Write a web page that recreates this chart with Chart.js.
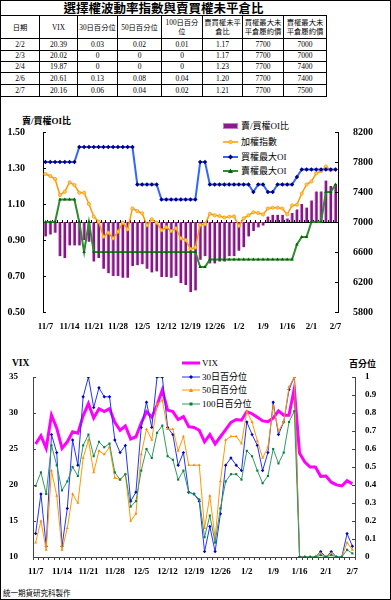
<!DOCTYPE html>
<html><head><meta charset="utf-8">
<script src="https://cdn.jsdelivr.net/npm/chart.js@4.4.1/dist/chart.umd.min.js"></script>
<style>
html,body{margin:0;padding:0;background:#fff;}
#frame{position:relative;width:391px;height:600px;overflow:hidden;background:#fff;}
#border{position:absolute;left:0;top:0;width:391px;height:600px;box-sizing:border-box;border:1px solid #000;pointer-events:none;z-index:5}
#tbl{position:absolute;left:0;top:0;border-collapse:collapse;table-layout:fixed;width:326px;font-family:"Liberation Serif","Noto Sans CJK TC",serif;font-size:7.5px;color:#000}
#tbl td{border:1px solid #000;text-align:center;padding:0;line-height:1;overflow:hidden;white-space:nowrap}
#tbl td.title{border-left:none;border-right:none;border-top:none;font-family:"Noto Sans CJK TC",sans-serif;font-weight:bold;font-size:12.5px;height:15px;line-height:15px}
#tbl tr.hdr td{font-family:"Liberation Serif","Noto Sans CJK TC",serif;font-size:7.3px;height:22px;line-height:9px}
canvas{position:absolute;left:0}
.lbl{position:absolute;white-space:nowrap;font-family:"Liberation Serif","Noto Sans CJK TC",serif;color:#000}
.leg{position:absolute;white-space:nowrap;font-family:"Liberation Serif","Noto Sans CJK TC",serif;font-size:9px;height:12px;line-height:12px;color:#000}
.leg svg{position:absolute;left:0;top:2px}
.leg span{position:absolute;top:0}
</style>
</head><body>
<div id="frame">
<table id="tbl">
<colgroup><col style="width:39px"><col style="width:38px"><col style="width:40px"><col style="width:44px"><col style="width:41px"><col style="width:40px"><col style="width:41px"><col style="width:43px"></colgroup>
<tbody id="tbody">
<tr><td class="title" colspan="8">選擇權波動率指數與賣買權未平倉比</td></tr>
<tr class="hdr"><td>日期</td><td>VIX</td><td>30日百分位</td><td>50日百分位</td><td>100日百分<br>位</td><td>賣買權未平<br>倉比</td><td>買權最大未<br>平倉履約價</td><td>賣權最大未<br>平倉履約價</td></tr>
</tbody>
</table>

<div class="lbl" style="left:22px;top:115px;font-size:9px;font-weight:bold;line-height:12px">賣/買權OI比</div>

<div class="leg" style="left:223px;top:120px"><svg width="16" height="8"><rect x="0.5" y="1.5" width="14" height="5" fill="#8b1a8b" stroke="#cc77cc" stroke-width="1"/></svg><span style="left:18px">賣/買權OI比</span></div>
<div class="leg" style="left:223px;top:135.5px"><svg width="16" height="8"><line x1="0" y1="4" x2="15" y2="4" stroke="#ff9900" stroke-width="1.5"/><circle cx="7.5" cy="4" r="1.7" fill="#ffcc66" stroke="#ff9900" stroke-width="0.8"/></svg><span style="left:18px">加權指數</span></div>
<div class="leg" style="left:223px;top:150.5px"><svg width="16" height="8"><line x1="0" y1="4" x2="15" y2="4" stroke="#3366ff" stroke-width="2"/><polygon points="7.5,1.5 10,4 7.5,6.5 5,4" fill="#000080"/></svg><span style="left:18px">買權最大OI</span></div>
<div class="leg" style="left:223px;top:165px"><svg width="16" height="8"><line x1="0" y1="4" x2="15" y2="4" stroke="#2e8b2e" stroke-width="2"/><polygon points="7.5,1.5 10,6 5,6" fill="#006400"/></svg><span style="left:18px">賣權最大OI</span></div>

<canvas id="c1" width="391" height="235" style="top:100px;width:391px;height:235px"></canvas>

<div class="lbl" style="left:12px;top:357px;font-size:9.5px;font-weight:bold;line-height:12px">VIX</div>
<div class="lbl" style="left:349px;top:358px;font-size:9px;font-weight:bold;line-height:12px">百分位</div>

<div class="leg" style="left:182px;top:357px"><svg width="19" height="8"><line x1="0" y1="4" x2="18" y2="4" stroke="#ff00ff" stroke-width="3"/></svg><span style="left:20px">VIX</span></div>
<div class="leg" style="left:182px;top:370.5px"><svg width="19" height="8"><line x1="0" y1="4" x2="18" y2="4" stroke="#2233ff" stroke-width="1"/><polygon points="9,2 11,4 9,6 7,4" fill="#0000cc"/></svg><span style="left:20px">30日百分位</span></div>
<div class="leg" style="left:182px;top:384px"><svg width="19" height="8"><line x1="0" y1="4" x2="18" y2="4" stroke="#ff9900" stroke-width="1"/><polygon points="9,2 11,6 7,6" fill="#ff8800"/></svg><span style="left:20px">50日百分位</span></div>
<div class="leg" style="left:182px;top:397.5px"><svg width="19" height="8"><line x1="0" y1="4" x2="18" y2="4" stroke="#339966" stroke-width="1"/><rect x="7.5" y="2.5" width="3" height="3" fill="#008040"/></svg><span style="left:20px">100日百分位</span></div>

<canvas id="c2" width="391" height="240" style="top:340px;width:391px;height:240px"></canvas>

<div class="lbl" style="left:3px;top:588px;font-size:7.5px;line-height:10px;font-family:'Noto Sans CJK TC',sans-serif">統一期貨研究科製作</div>
<div id="border"></div>
</div>

<script>
// ---------- table data ----------
const tableDates = ['2/2','2/3','2/4','2/6','2/7'];
const tableVix = ['20.39','20.02','19.87','20.61','20.16'];
const tableP30 = ['0.03','0','0','0.13','0.06'];
const tableP50 = ['0.02','0','0','0.08','0.04'];
const tableP100 = ['0.01','0','0','0.04','0.02'];
const tablePCR = ['1.17','1.17','1.23','1.20','1.21'];
const tableCallStrike = ['7700','7700','7700','7700','7700'];
const tablePutStrike = ['7000','7000','7400','7400','7500'];

// ---------- chart data ----------
const dates = ['11/7','11/8','11/9','11/10','11/11','11/14','11/15','11/16','11/17','11/18',
 '11/21','11/22','11/23','11/24','11/25','11/28','11/29','11/30','12/1','12/2',
 '12/5','12/6','12/7','12/8','12/9','12/12','12/13','12/14','12/15','12/16',
 '12/19','12/20','12/21','12/22','12/23','12/26','12/27','12/28','12/29','12/30',
 '1/2','1/3','1/4','1/5','1/6','1/9','1/10','1/11','1/12','1/13',
 '1/16','1/17','1/18','1/30','1/31','2/1','2/2','2/3','2/4','2/6','2/7'];

const pcRatio = [0.92,0.93,0.94,0.81,0.80,0.87,0.87,0.87,0.90,0.89,
 0.78,0.80,0.74,0.715,0.70,0.70,0.69,0.69,0.755,0.76,
 0.765,0.74,0.72,0.725,0.695,0.695,0.69,0.70,0.66,0.65,
 0.61,0.62,0.79,0.81,0.77,0.77,0.78,0.78,0.81,0.81,
 0.84,0.86,0.92,0.95,0.97,0.98,1.03,1.04,1.04,1.04,
 1.02,1.05,1.07,1.10,1.08,1.12,1.17,1.17,1.23,1.20,1.21];

const taiex = [7640,7613,7573,7360,7404,7529,7493,7391,7391,7240,
 7071,7004,6804,6858,6782,6871,6991,6902,7182,7147,
 7116,6956,7036,6991,6890,6930,6880,6916,6782,6760,
 6640,6660,6960,6970,7110,7090,7080,7060,7070,7075,
 6950,7050,7090,7130,7120,7100,7180,7190,7190,7180,
 7100,7220,7230,7380,7500,7540,7650,7680,7740,7690,7700];

const callMaxOI = [7800,7800,7800,7800,7800,7800,7800,8000,8000,8000,
 8000,8000,8000,8000,8000,8000,8000,8000,8000,7500,
 7500,7500,7500,7500,7300,7300,7300,7300,7300,7300,
 7300,7300,7800,7800,7500,7500,7500,7500,7500,7500,
 7500,7500,7500,7400,7500,7500,7400,7400,7500,7500,
 7500,7500,7600,7700,7700,7700,7700,7700,7700,7700,7700];

const putMaxOI = [7000,7000,7000,7300,7300,7300,7300,7000,6600,7000,
 6600,6600,6600,6600,6600,6600,6600,6600,6600,6600,
 6600,6600,6600,6600,6600,6600,6600,6600,6600,6600,
 6600,6600,6400,6400,6500,6500,6500,6500,6500,6500,
 6500,6500,6500,6500,6500,6500,6500,6500,6500,6500,
 6500,6500,6700,6800,6800,7000,7000,7000,7400,7400,7500];

const vix = [25.7,26.85,25.1,29.7,27.9,25.1,26.0,27.4,27.2,29.6,
 31.3,29.3,30.6,30.2,30.6,28.7,27.6,28.2,26.4,26.7,
 28.6,30.2,29.4,31.1,33.2,30.4,30.2,29.1,29.5,28.1,
 28.0,27.6,26.0,27.0,25.7,26.7,27.7,28.7,29.1,29.0,
 30.2,29.9,29.4,28.9,28.8,29.3,30.3,29.7,29.7,33.4,
 24.4,23.2,22.5,22.5,21.2,21.25,20.39,20.02,19.87,20.61,20.16];

const pct30 = [0.13,0.35,0.06,0.68,0.58,0.06,0.27,0.65,0.51,0.89,
 1.0,0.83,0.94,0.89,0.89,0.65,0.58,0.62,0.31,0.36,
 0.72,0.86,0.72,1.0,1.0,0.72,0.68,0.51,0.58,0.36,
 0.35,0.31,0.03,0.17,0.03,0.24,0.51,0.55,0.51,0.48,
 0.75,0.68,0.62,0.48,0.58,0.86,0.68,0.75,0.93,1.0,
 0,0,0,0,0.03,0,0.03,0,0,0.13,0.06];

const pct50 = [0.08,0.20,0.04,0.48,0.34,0.04,0.16,0.35,0.30,0.55,
 0.65,0.47,0.59,0.57,0.61,0.44,0.43,0.46,0.20,0.24,
 0.57,0.71,0.65,0.85,0.87,0.71,0.71,0.59,0.67,0.51,
 0.51,0.51,0.16,0.34,0.105,0.42,0.65,0.67,0.67,0.63,
 0.81,0.75,0.645,0.55,0.61,0.84,0.70,0.75,0.945,1.0,
 0,0,0,0,0.02,0,0.02,0,0,0.08,0.04];

const pct100 = [0.395,0.47,0.35,0.62,0.51,0.37,0.42,0.50,0.45,0.62,
 0.68,0.56,0.64,0.61,0.63,0.47,0.43,0.46,0.28,0.31,
 0.48,0.60,0.55,0.69,0.73,0.56,0.54,0.43,0.48,0.36,
 0.35,0.32,0.11,0.23,0.08,0.27,0.42,0.46,0.46,0.43,
 0.59,0.56,0.48,0.41,0.45,0.60,0.52,0.58,0.75,0.81,
 0,0,0,0,0.01,0,0.01,0,0,0.04,0.02];

// ---------- build table ----------
(function(){
  const tb = document.getElementById('tbody');
  const hs = [12,11,11,12,12];
  for (let r = 0; r < tableDates.length; r++) {
    const tr = document.createElement('tr');
    const vals = [tableDates[r], tableVix[r], tableP30[r], tableP50[r], tableP100[r], tablePCR[r], tableCallStrike[r], tablePutStrike[r]];
    vals.forEach(v => {
      const td = document.createElement('td');
      td.textContent = v;
      td.style.height = (hs[r]-1) + 'px';
      tr.appendChild(td);
    });
    tb.appendChild(tr);
  }
})();

// ---------- plugin: inside tick marks on value axes ----------
const innerTicks = {
  id: 'innerTicks',
  afterDraw(chart, args, opts) {
    const ctx = chart.ctx;
    (opts.axes || []).forEach(a => {
      const s = chart.scales[a.id];
      if (!s) return;
      ctx.save();
      ctx.strokeStyle = a.color || '#000';
      ctx.lineWidth = 1;
      ctx.beginPath();
      s.ticks.forEach(t => {
        const y = Math.round(s.getPixelForValue(t.value)) + 0.5;
        if (s.position === 'left') { ctx.moveTo(s.right, y); ctx.lineTo(s.right + a.len, y); }
        else { ctx.moveTo(s.left, y); ctx.lineTo(s.left - a.len, y); }
      });
      ctx.stroke();
      ctx.restore();
    });
  }
};

const serifB = (size) => ({family: "'Liberation Serif', 'Times New Roman', serif", size: size, weight: 'bold'});
const dateTick = function(val, i) { return i % 5 === 0 ? dates[i] : ''; };

Chart.defaults.animation = false;

// ---------- top chart ----------
new Chart(document.getElementById('c1'), {
  data: {
    labels: dates,
    datasets: [
      {type: 'line', label: '賣權最大OI', data: putMaxOI, yAxisID: 'y1', xAxisID: 'x',
       borderColor: '#2e8b2e', borderWidth: 2, tension: 0,
       pointStyle: 'triangle', pointRadius: 2, pointBackgroundColor: '#006400', pointBorderColor: '#006400', pointBorderWidth: 0, order: 1},
      {type: 'line', label: '買權最大OI', data: callMaxOI, yAxisID: 'y1', xAxisID: 'x',
       borderColor: '#3366ff', borderWidth: 2, tension: 0,
       pointStyle: 'rectRot', pointRadius: 2.2, pointBackgroundColor: '#000080', pointBorderColor: '#000080', pointBorderWidth: 0, order: 2},
      {type: 'line', label: '加權指數', data: taiex, yAxisID: 'y1', xAxisID: 'x',
       borderColor: '#ff9900', borderWidth: 1.5, tension: 0,
       pointStyle: 'circle', pointRadius: 1.6, pointBackgroundColor: '#ffcc66', pointBorderColor: '#ff9900', pointBorderWidth: 0.8, order: 3},
      {type: 'bar', label: '賣/買權OI比', data: pcRatio.map(v => [1, v]), yAxisID: 'y', xAxisID: 'x',
       backgroundColor: '#861686', borderColor: '#d48ad4', borderWidth: {left: 1, right: 0, top: 0, bottom: 0}, borderSkipped: false,
       barThickness: 3, order: 4}
    ]
  },
  plugins: [innerTicks],
  options: {
    responsive: false,
    devicePixelRatio: 1,
    animation: false,
    layout: {padding: {top: 32, left: 0, right: 0, bottom: 0}},
    plugins: {
      legend: {display: false},
      tooltip: {enabled: false},
      innerTicks: {axes: [{id: 'y', len: 3, color: '#000'}, {id: 'y1', len: 3, color: '#000'}]}
    },
    scales: {
      x: {type: 'category', position: 'bottom', offset: true,
          grid: {display: false}, border: {display: false},
          ticks: {autoSkip: false, maxRotation: 0, minRotation: 0, padding: 1, color: '#000', font: serifB(9), callback: dateTick},
          afterFit: s => { s.height = 23; }},
      xBase: {type: 'category', axis: 'x', position: {y: 1}, offset: true,
          grid: {display: true, offset: true, drawOnChartArea: false, drawTicks: true, tickLength: -3, color: '#000', lineWidth: 1},
          border: {display: true, color: '#000', width: 1},
          ticks: {display: false, autoSkip: false},
          afterFit: s => { s.height = 0; }},
      y: {position: 'left', min: 0.5, max: 1.5,
          grid: {display: false}, border: {display: true, color: '#000'},
          ticks: {stepSize: 0.2, padding: 10, color: '#000', font: serifB(10), callback: v => Number(v).toFixed(2)},
          afterFit: s => { s.width = 43; }},
      y1: {position: 'right', min: 5800, max: 8200,
          grid: {display: false}, border: {display: true, color: '#000'},
          ticks: {stepSize: 400, padding: 7, color: '#000', font: serifB(10), callback: v => String(v)},
          afterFit: s => { s.width = 53; }}
    }
  }
});

// ---------- bottom chart ----------
new Chart(document.getElementById('c2'), {
  type: 'line',
  data: {
    labels: dates,
    datasets: [
      {label: '100日百分位', data: pct100, yAxisID: 'y1', borderColor: '#339966', borderWidth: 1, tension: 0,
       pointStyle: 'rect', pointRadius: 1.5, pointBackgroundColor: '#008040', pointBorderColor: '#008040', pointBorderWidth: 0, order: 1},
      {label: '50日百分位', data: pct50, yAxisID: 'y1', borderColor: '#ff9900', borderWidth: 1, tension: 0,
       pointStyle: 'triangle', pointRadius: 1.7, pointBackgroundColor: '#ff8800', pointBorderColor: '#ff8800', pointBorderWidth: 0, order: 2},
      {label: '30日百分位', data: pct30, yAxisID: 'y1', borderColor: '#2233ff', borderWidth: 1, tension: 0,
       pointStyle: 'rectRot', pointRadius: 1.7, pointBackgroundColor: '#0000cc', pointBorderColor: '#0000cc', pointBorderWidth: 0, order: 3},
      {label: 'VIX', data: vix, yAxisID: 'y', borderColor: '#ff00ff', borderWidth: 3, tension: 0, pointRadius: 0, order: 4}
    ]
  },
  plugins: [innerTicks],
  options: {
    responsive: false,
    devicePixelRatio: 1,
    animation: false,
    layout: {padding: {top: 37, left: 0, right: 0, bottom: 0}},
    plugins: {
      legend: {display: false},
      tooltip: {enabled: false},
      innerTicks: {axes: [{id: 'y', len: 3, color: '#444'}, {id: 'y1', len: 3, color: '#444'}]}
    },
    scales: {
      x: {type: 'category', position: 'bottom', offset: true,
          grid: {display: true, offset: true, drawOnChartArea: false, drawTicks: true, tickLength: 3, color: '#444'},
          border: {display: true, color: '#444'},
          ticks: {autoSkip: false, maxRotation: 0, minRotation: 0, padding: 6, color: '#000', font: serifB(9), callback: dateTick},
          afterFit: s => { s.height = 23; }},
      y: {position: 'left', min: 10, max: 35,
          grid: {display: false}, border: {display: true, color: '#444'},
          ticks: {stepSize: 5, padding: 7, color: '#000', font: serifB(9)},
          afterFit: s => { s.width = 33; }},
      y1: {position: 'right', min: 0, max: 1,
          grid: {display: false}, border: {display: true, color: '#444'},
          ticks: {stepSize: 0.1, padding: 2, color: '#000', font: serifB(9), callback: v => String(Math.round(v * 10) / 10)},
          afterFit: s => { s.width = 36; }}
    }
  }
});
</script>
</body></html>
